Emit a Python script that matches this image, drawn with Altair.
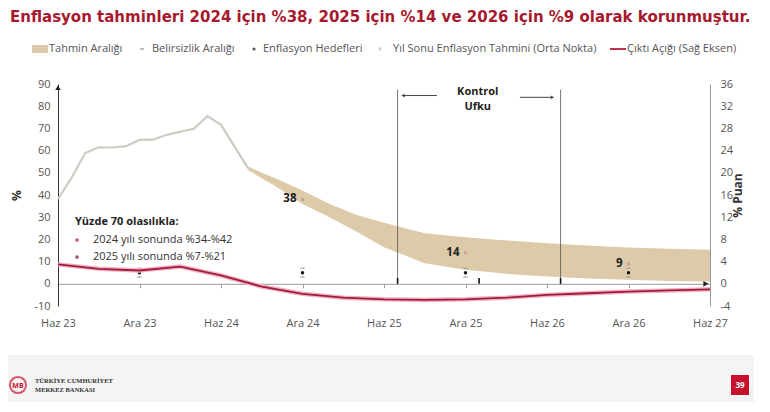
import altair as alt
import pandas as pd

# ---------------- data ----------------
x_labels = ["Haz 23", "Ara 23", "Haz 24", "Ara 24", "Haz 25", "Ara 25", "Haz 26", "Ara 26", "Haz 27"]

hist_months = ["2023-06", "2023-07", "2023-08", "2023-09", "2023-10", "2023-11", "2023-12",
               "2024-01", "2024-02", "2024-03", "2024-04", "2024-05", "2024-06", "2024-07", "2024-08"]
hist_values = [38.2, 47.8, 58.9, 61.5, 61.4, 62.0, 64.8, 64.9, 67.1, 68.5, 69.8, 75.5, 71.6, 61.8, 52.0]

fan_months = ["2024-08", "2024-09", "2024-10", "2024-12", "2025-02", "2025-04", "2025-06", "2025-09",
              "2025-12", "2026-03", "2026-06", "2026-09", "2026-12", "2027-03", "2027-06"]
fan_upper = [52.8, 50.0, 47.5, 42.0, 36.0, 31.0, 27.5, 22.8, 21.0, 19.5, 18.3, 17.2, 16.4, 15.8, 15.3]
fan_lower = [51.2, 47.5, 44.0, 36.0, 30.0, 23.5, 16.5, 9.3, 6.3, 4.5, 3.3, 2.4, 1.8, 1.3, 1.0]

mid_months = ["2024-12", "2025-12", "2026-12"]
mid_values = [38, 14, 9]
mid_labels = ["38", "14", "9"]

target_months = ["2023-12", "2024-12", "2025-12", "2026-12"]
target_values = [5, 5, 5, 5]
band_low = [3, 3, 3, 3]
band_high = [7, 7, 7, 7]

gap_months = ["2023-06", "2023-09", "2023-12", "2024-03", "2024-06", "2024-09", "2024-12", "2025-03",
              "2025-06", "2025-09", "2025-12", "2026-03", "2026-06", "2026-09", "2026-12", "2027-03", "2027-06"]
gap_values = [3.5, 2.7, 2.4, 3.1, 1.5, -0.5, -1.8, -2.5, -2.8, -2.9, -2.8, -2.5, -2.0, -1.7, -1.4, -1.2, -1.0]

horizon_months = ["2025-07", "2026-07"]
horizon_top = 87.5
axis_mark_months = ["2025-07", "2026-01", "2026-07"]

title_text = "Enflasyon tahminleri 2024 için %38, 2025 için %14 ve 2026 için %9 olarak korunmuştur."


def idx(m):
    y, mo = m.split("-")
    return (int(y) - 2023) * 12 + int(mo) - 6


FONT = "Open Sans"
FAN = "#dccaa9"
RED_T = "#a6192e"

hist_df = pd.DataFrame({"t": [idx(m) for m in hist_months], "v": hist_values})
fan_df = pd.DataFrame({"t": [idx(m) for m in fan_months], "hi": fan_upper, "lo": fan_lower})
mid_df = pd.DataFrame({"t": [idx(m) for m in mid_months], "v": mid_values, "s": mid_labels})
tgt_df = pd.DataFrame({"t": [idx(m) for m in target_months], "v": target_values,
                       "lo": band_low, "hi": band_high})
band_df = pd.concat([tgt_df[["t", "lo"]].rename(columns={"lo": "v"}),
                     tgt_df[["t", "hi"]].rename(columns={"hi": "v"})])
gap_df = pd.DataFrame({"t": [idx(m) for m in gap_months], "gap": gap_values})
hor_df = pd.DataFrame({"t": [idx(m) for m in horizon_months], "y0": 0, "y1": horizon_top})
axm_df = pd.DataFrame({"t": [idx(m) for m in axis_mark_months], "y0": 0, "y1": 2.6})

label_expr = "[" + ",".join("'%s'" % s for s in x_labels) + "][round(datum.value/6)]"

XSC = alt.Scale(domain=[0, 48], nice=False, zero=False)
XAX = alt.Axis(values=list(range(0, 49, 6)), labelExpr=label_expr, offset=-22.2,
               domainColor="#9a9a9a", tickColor="#9a9a9a", tickSize=4, labelPadding=30,
               labelFontSize=11, labelColor="#555", labelFont=FONT, title=None, grid=False,
               labelOverlap=False, labelFlush=False)
LSC = alt.Scale(domain=[-10, 90], nice=False, zero=False)
LAX = alt.Axis(values=list(range(-10, 91, 10)), labelExpr="'' + datum.value", title="%",
               titleAngle=270, titleFontSize=12, titleFontWeight="bold", titleColor="#333",
               titleFont=FONT, titlePadding=10, domainColor="#333", ticks=False, grid=False,
               labelFontSize=11, labelColor="#555", labelFont=FONT, labelPadding=8)
RSC = alt.Scale(domain=[-4, 36], nice=False, zero=False)
RAX = alt.Axis(values=list(range(-4, 37, 4)), labelExpr="'' + datum.value", title="% Puan",
               orient="right", titleAngle=270, titleBaseline="top", titleFontSize=12,
               titleFontWeight="bold", titleColor="#333", titleFont=FONT, titlePadding=0,
               domainColor="#9a9a9a", ticks=False, grid=False, labelFontSize=11,
               labelColor="#555", labelFont=FONT, labelPadding=10)


def X():
    return alt.X("t:Q", scale=XSC, axis=XAX)


def Y(f="v"):
    return alt.Y(f + ":Q", scale=LSC, axis=LAX)


def one(s=""):
    return pd.DataFrame({"s": [s]})


def txt(s, x, y, size=11, color="#555", weight="normal", align="left", baseline="middle",
        font=FONT):
    return alt.Chart(one(s)).mark_text(align=align, baseline=baseline, fontSize=size,
                                       fontWeight=weight, color=color, font=font).encode(
        x=alt.value(x), y=alt.value(y), text="s:N")


# ---------------- footer / decorations ----------------
footer_bg = alt.Chart(one()).mark_rect(color="#f4f4f4").encode(
    x=alt.value(-50), x2=alt.value(696), y=alt.value(271), y2=alt.value(318))
logo = alt.Chart(one()).mark_point(shape="circle", size=260, stroke="#c8102e", strokeWidth=2,
                                   filled=False).encode(x=alt.value(-40), y=alt.value(301))
logo_t = txt("MB", -40, 302, size=7, color="#c8102e", weight="bold", align="center")
bank1 = txt("TÜRKİYE CUMHURİYET", -23, 297, size=6.5, color="#333", weight="bold",
            font="Liberation Serif")
bank2 = txt("MERKEZ BANKASI", -23, 306, size=6.5, color="#333", weight="bold",
            font="Liberation Serif")
page_box = alt.Chart(one()).mark_rect(color="#c8102e").encode(
    x=alt.value(673), x2=alt.value(691), y=alt.value(291), y2=alt.value(311))
page_num = txt("39", 682, 301.5, size=8, color="white", weight="bold", align="center")

title = txt(title_text, -48, -61.6, size=15.0, color=RED_T, weight="bold", baseline="alphabetic",
            font="DejaVu Sans")

# legend (drawn by hand)
LY = -35
leg = [
    alt.Chart(one()).mark_rect(color=FAN).encode(x=alt.value(-26), x2=alt.value(-10),
                                                  y=alt.value(LY - 4), y2=alt.value(LY + 4)),
    txt("Tahmin Aralığı", -9, LY),
    alt.Chart(one()).mark_rule(color="#aaa", strokeWidth=1.5).encode(
        x=alt.value(82), x2=alt.value(86), y=alt.value(LY)),
    txt("Belirsizlik Aralığı", 94, LY),
    alt.Chart(one()).mark_point(shape="circle", filled=True, size=10, color="#111").encode(
        x=alt.value(196), y=alt.value(LY)),
    txt("Enflasyon Hedefleri", 205, LY),
    alt.Chart(one()).mark_point(shape="cross", angle=45, filled=True, size=12, color="#bbb").encode(
        x=alt.value(322), y=alt.value(LY)),
    txt("Yıl Sonu Enflasyon Tahmini (Orta Nokta)", 335, LY),
    alt.Chart(one()).mark_rule(color="#c0304f", strokeWidth=2).encode(
        x=alt.value(552), x2=alt.value(568), y=alt.value(LY)),
    txt("Çıktı Açığı (Sağ Eksen)", 569, LY),
]

# probability box
prob = [
    txt("Yüzde 70 olasılıkla:", 17, 138, size=11, color="#222", weight="bold"),
    alt.Chart(one()).mark_point(shape="circle", filled=True, size=14, color="#c8103e").encode(
        x=alt.value(19), y=alt.value(156)),
    txt("2024 yılı sonunda %34-%42", 35, 156, size=11, color="#333"),
    alt.Chart(one()).mark_point(shape="circle", filled=True, size=14, color="#7a1030").encode(
        x=alt.value(19), y=alt.value(173)),
    txt("2025 yılı sonunda %7-%21", 35, 173, size=11, color="#333"),
]

# ---------------- data layers (left axis) ----------------
fan = alt.Chart(fan_df).mark_area(color=FAN, opacity=1).encode(x=X(), y=Y("hi"), y2="lo:Q")
hist = alt.Chart(hist_df).mark_line(color="#cfcbc2", strokeWidth=2.2).encode(x=X(), y=Y())
horizon = alt.Chart(hor_df).mark_rule(color="#555", strokeWidth=0.8).encode(
    x=X(), y=Y("y0"), y2="y1:Q")
axis_marks = alt.Chart(axm_df).mark_rule(color="#111", strokeWidth=1.6).encode(
    x=X(), y=Y("y0"), y2="y1:Q")
bands = alt.Chart(band_df).mark_point(shape="stroke", size=18, color="#9a9a9a",
                                      strokeWidth=1.6).encode(x=X(), y=Y())
targets = alt.Chart(tgt_df).mark_point(shape="circle", filled=True, size=12, color="#111",
                                       opacity=1).encode(x=X(), y=Y())
mids = alt.Chart(mid_df).mark_point(shape="cross", angle=45, filled=True, size=12,
                                    color="#c79a9a", opacity=1).encode(x=X(), y=Y())
mid_txt = alt.Chart(mid_df).mark_text(align="right", dx=-6, fontSize=11.5, fontWeight="bold",
                                      color="#222", font=FONT).encode(x=X(), y=Y(), text="s:N")

# control horizon annotation
arrow_df = pd.DataFrame({"t": [27.9, 34.0], "t2": [25.4, 36.4], "v": [84.8, 84.0]})
arrow_lines = alt.Chart(arrow_df).mark_rule(color="#444", strokeWidth=1).encode(
    x=X(), x2="t2:Q", y=Y())
arrow_l = alt.Chart(arrow_df.iloc[[0]]).mark_point(shape="triangle-left", filled=True, size=14,
                                                   color="#444", opacity=1).encode(
    x=alt.X("t2:Q", scale=XSC, axis=XAX), y=Y())
arrow_r = alt.Chart(arrow_df.iloc[[1]]).mark_point(shape="triangle-right", filled=True, size=14,
                                                   color="#444", opacity=1).encode(
    x=alt.X("t2:Q", scale=XSC, axis=XAX), y=Y())
ku_df = pd.DataFrame({"t": [30.9, 30.9], "v": [86.4, 79.8], "s": ["Kontrol", "Ufku"]})
ku_txt = alt.Chart(ku_df).mark_text(fontSize=11, fontWeight="bold", color="#222",
                                    font=FONT).encode(x=X(), y=Y(), text="s:N")

# axis arrow heads
head_df = pd.DataFrame({"t": [0.0], "v": [88.4]})
head_up = alt.Chart(head_df).mark_point(shape="triangle-up", filled=True, size=30, color="#222",
                                        opacity=1).encode(x=X(), y=Y())
head2_df = pd.DataFrame({"t": [47.7], "v": [0.0]})
head_right = alt.Chart(head2_df).mark_point(shape="triangle-right", filled=True, size=34,
                                            color="#222", opacity=1).encode(x=X(), y=Y())

left = alt.layer(footer_bg, logo, logo_t, bank1, bank2, page_box, page_num, title, *leg,
                 fan, hist, horizon, axis_marks, bands, targets, mids, mid_txt,
                 arrow_lines, arrow_l, arrow_r, ku_txt, head_up, head_right, *prob)

# ---------------- output gap (right axis) ----------------
gap_halo = alt.Chart(gap_df).mark_line(color="#f3b1c0", strokeWidth=4.5).encode(
    x=X(), y=alt.Y("gap:Q", scale=RSC, axis=RAX))
gap_core = alt.Chart(gap_df).mark_line(color="#9e1c40", strokeWidth=1.8).encode(
    x=X(), y=alt.Y("gap:Q", scale=RSC, axis=RAX))
right = alt.layer(gap_halo, gap_core)

chart = alt.layer(left, right).resolve_scale(y="independent").properties(
    width=652, height=222,
    autosize=alt.AutoSizeParams(type="none"),
    padding={"left": 50, "top": 76, "right": 52, "bottom": 96},
    background="white",
).configure_view(stroke=None)

chart.save("out.html", embed_options={"renderer": "svg", "actions": False})
